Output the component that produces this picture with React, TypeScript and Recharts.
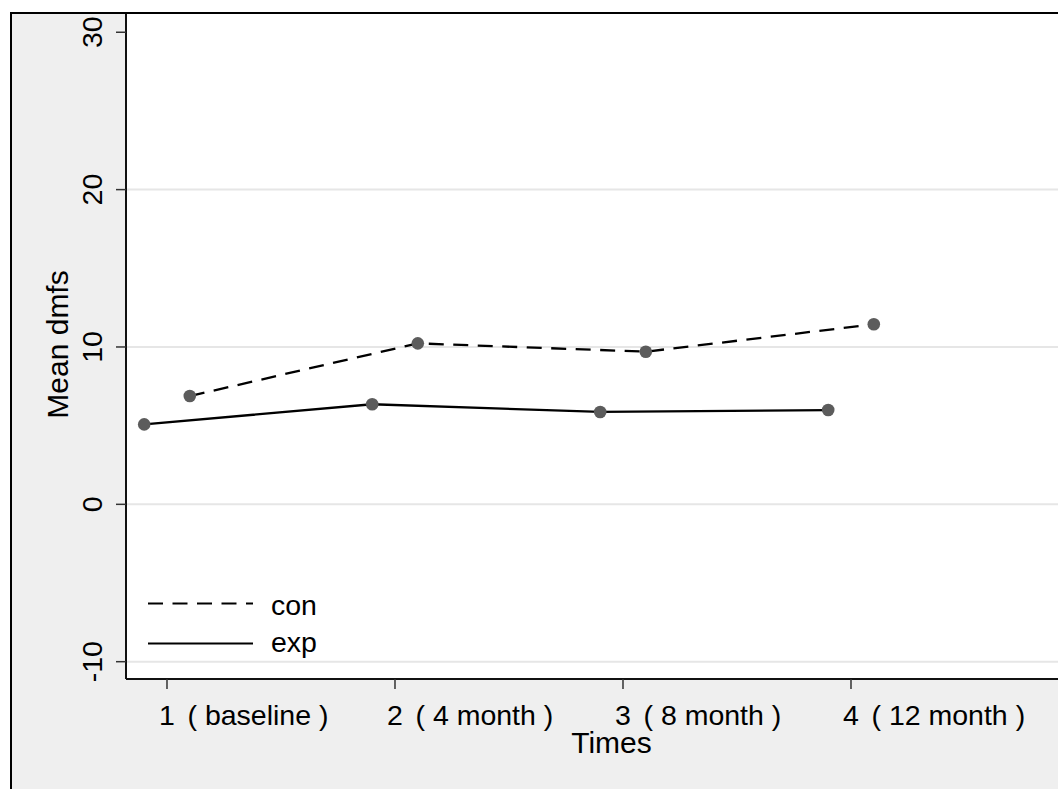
import React from 'react';
import { LineChart, Line, XAxis, YAxis, CartesianGrid, ReferenceLine, Legend, Label } from 'recharts';

// Measurement occasions and their value labels
const timePoints = [1, 2, 3, 4];
const timeLabels = ['( baseline )', '( 4 month )', '( 8 month )', '( 12 month )'];

// Mean dmfs per group at each occasion
const conMeans = [6.88, 10.23, 9.7, 11.44];
const expMeans = [5.08, 6.36, 5.87, 5.99];

// Y axis ticks and the grid lines drawn across the plot
const yTicks = [-10, 0, 10, 20, 30];
const gridValues = [-10, 0, 10, 20];

// Groups are shifted sideways so their markers do not overlap
const groupShift = 0.1;

const conData = timePoints.map((t, i) => ({ x: t + groupShift, y: conMeans[i] }));
const expData = timePoints.map((t, i) => ({ x: t - groupShift, y: expMeans[i] }));

const FONT = '"Liberation Sans", Arial, Helvetica, sans-serif';
const DASH = '15 9.5';
const MARKER = { r: 6.3, fill: '#5c5c5c', stroke: 'none' };

const XTick = (props: any) => {
  const { x, y, payload } = props;
  const idx = timePoints.indexOf(payload.value);
  return (
    <g>
      <text x={x} y={y + 34} textAnchor="middle" fontFamily={FONT} fontSize={28.5} fill="#000">
        {payload.value}
      </text>
      <text x={x + 20.5} y={y + 34} textAnchor="start" fontFamily={FONT} fontSize={28.5} fill="#000">
        {idx >= 0 ? timeLabels[idx] : ''}
      </text>
    </g>
  );
};

const YTick = (props: any) => {
  const { x, y, payload } = props;
  const bx = x - 12;
  return (
    <text
      x={bx}
      y={y}
      transform={`rotate(-90, ${bx}, ${y})`}
      textAnchor="middle"
      fontFamily={FONT}
      fontSize={28.5}
      fill="#000"
    >
      {payload.value}
    </text>
  );
};

const renderLegend = (props: any) => {
  const items = (props.payload || []).filter((p: any) => p.type !== 'none');
  return (
    <svg width={200} height={80} style={{ display: 'block' }}>
      {items.map((p: any, i: number) => (
        <g key={p.value}>
          <line
            x1={8}
            x2={113}
            y1={18.5 + 40 * i}
            y2={18.5 + 40 * i}
            stroke="#000"
            strokeWidth={2}
            strokeDasharray={p.payload?.strokeDasharray}
          />
          <text x={131} y={30 + 36.5 * i} fontFamily={FONT} fontSize={28.5} fill="#000">
            {p.value}
          </text>
        </g>
      ))}
    </svg>
  );
};

export default function App() {
  return (
    <div
      style={{
        position: 'fixed',
        left: 0,
        top: 0,
        width: 1058,
        height: 789,
        overflow: 'hidden',
        background: '#fff',
      }}
    >
      {/* graph region */}
      <div
        style={{
          position: 'absolute',
          left: 10,
          top: 12,
          width: 1200,
          height: 900,
          background: '#efefef',
          borderLeft: '2px solid #000',
          borderTop: '2px solid #000',
        }}
      />
      <div style={{ position: 'absolute', left: 0, top: 0 }}>
        <LineChart width={1058} height={789} margin={{ top: 14, right: 0, bottom: 0, left: 0 }}>
          <CartesianGrid horizontal={false} vertical={false} fill="#fff" stroke="none" />
          <XAxis
            dataKey="x"
            type="number"
            domain={[0.8202, 4.9079]}
            allowDataOverflow
            ticks={timePoints}
            height={110}
            tickSize={10}
            axisLine={{ stroke: '#111', strokeWidth: 2 }}
            tickLine={{ stroke: '#333', strokeWidth: 1.5 }}
            tick={<XTick />}
            interval={0}
          >
            <Label
              content={(p: any) => {
                const vb = p.viewBox;
                return (
                  <text x={vb.x + 485.5} y={vb.y + 74} textAnchor="middle" fontFamily={FONT} fontSize={30} fill="#000">
                    Times
                  </text>
                );
              }}
            />
          </XAxis>
          <YAxis
            type="number"
            domain={[-11.1, 31.16]}
            allowDataOverflow
            ticks={yTicks}
            width={126}
            tickSize={10}
            axisLine={{ stroke: '#111', strokeWidth: 2 }}
            tickLine={{ stroke: '#333', strokeWidth: 1.5 }}
            tick={<YTick />}
            interval={0}
          >
            <Label
              content={(p: any) => {
                const vb = p.viewBox;
                const cy = vb.y + vb.height / 2 - 2;
                return (
                  <text
                    x={68}
                    y={cy}
                    transform={`rotate(-90, 68, ${cy})`}
                    textAnchor="middle"
                    fontFamily={FONT}
                    fontSize={30}
                    fill="#000"
                  >
                    Mean dmfs
                  </text>
                );
              }}
            />
          </YAxis>
          {gridValues.map((v) => (
            <ReferenceLine key={v} y={v} stroke="#e6e6e6" strokeWidth={2} />
          ))}
          {/* markers first, connecting lines drawn over them */}
          <Line data={conData} dataKey="y" stroke="none" dot={MARKER} activeDot={false} legendType="none" isAnimationActive={false} />
          <Line data={expData} dataKey="y" stroke="none" dot={MARKER} activeDot={false} legendType="none" isAnimationActive={false} />
          <Line
            data={conData}
            dataKey="y"
            name="con"
            stroke="#000"
            strokeWidth={2.3}
            strokeDasharray={DASH}
            dot={false}
            activeDot={false}
            isAnimationActive={false}
          />
          <Line
            data={expData}
            dataKey="y"
            name="exp"
            stroke="#000"
            strokeWidth={2.3}
            dot={false}
            activeDot={false}
            isAnimationActive={false}
          />
          <Legend
            layout="vertical"
            align="center"
            verticalAlign="middle"
            wrapperStyle={{ position: 'absolute', left: 140, top: 585, width: 200, height: 80 }}
            content={renderLegend}
          />
        </LineChart>
      </div>
    </div>
  );
}
